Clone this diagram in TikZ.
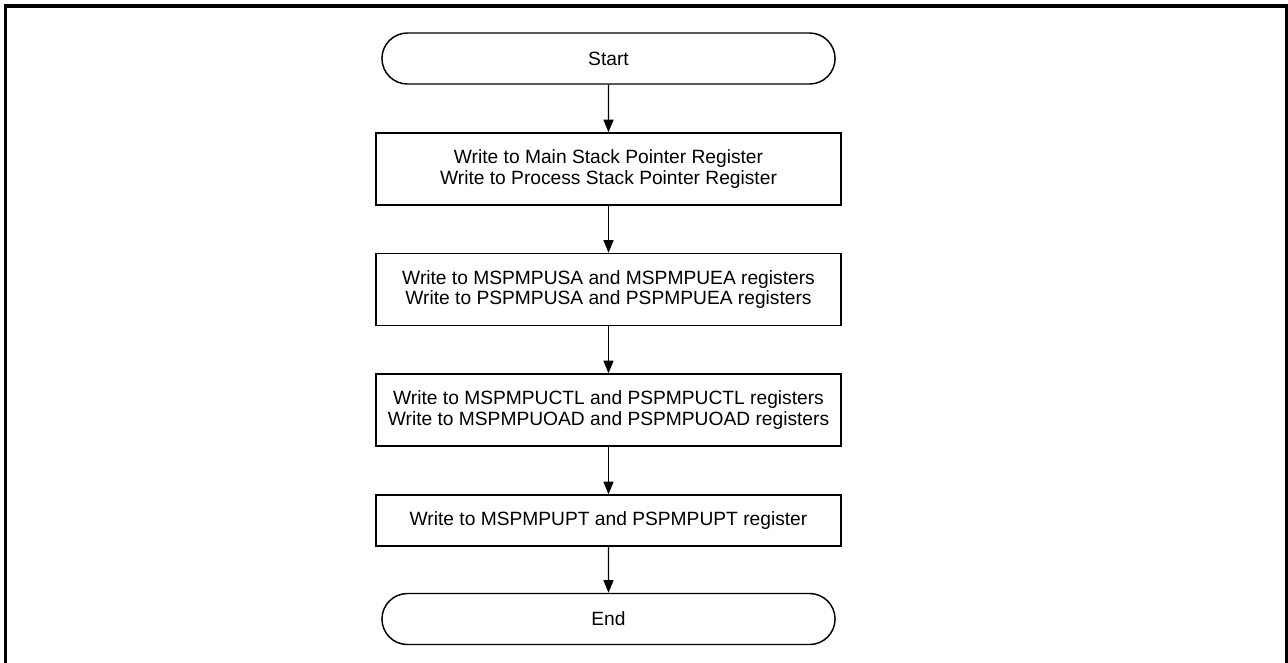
\documentclass[tikz,border=0pt]{standalone}
\usepackage{fontspec}
\setmainfont{Liberation Sans}
\usetikzlibrary{shapes.misc,arrows.meta}
\begin{document}
\begin{tikzpicture}[x=0.75pt, y=-0.75pt, every node/.style={font=\fontsize{14.4}{15.5}\selectfont}]
  \tikzstyle{myterm}=[draw,rounded rectangle,minimum width=346.5pt,minimum height=38.25pt,line width=1.1pt]
  \tikzstyle{mybox}=[draw,rectangle,minimum width=348.75pt,minimum height=54pt,align=center,line width=1.1pt]
  \tikzstyle{myarrow}=[-{Triangle[length=9.5pt,width=7.5pt]},line width=1.1pt]
  \useasboundingbox (0,0) rectangle (1288,662);
  \clip (0,0) rectangle (1288,662);
  \draw[line width=2.4pt] (5.5,720) -- (5.5,6) -- (1286.5,6) -- (1286.5,720);
  \node[myterm] (start) at (608.5,58.5) {Start};
  \node[mybox] (sp) at (608.5,169) {Write to Main Stack Pointer Register\\Write to Process Stack Pointer Register};
  \node[mybox] (area) at (608.5,289.5) {Write to MSPMPUSA and MSPMPUEA registers\\Write to PSPMPUSA and PSPMPUEA registers};
  \node[mybox] (ctl) at (608.5,410) {Write to MSPMPUCTL and PSPMPUCTL registers\\Write to MSPMPUOAD and PSPMPUOAD registers};
  \node[mybox,minimum height=38.25pt] (pt) at (608.5,520.5) {Write to MSPMPUPT and PSPMPUPT register};
  \node[myterm] (end) at (608.5,619) {End};
  \draw[myarrow] (start) -- (sp);
  \draw[myarrow] (sp) -- (area);
  \draw[myarrow] (area) -- (ctl);
  \draw[myarrow] (ctl) -- (pt);
  \draw[myarrow] (pt) -- (end);
\end{tikzpicture}
\end{document}
